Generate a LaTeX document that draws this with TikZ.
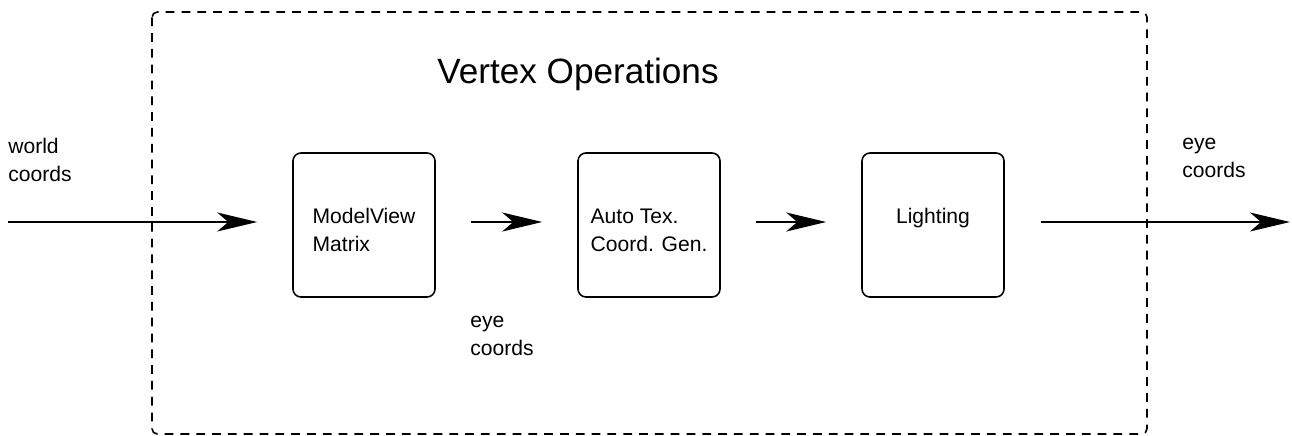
\documentclass[tikz,border=0pt]{standalone}
\usepackage{fontspec}
\setmainfont{Liberation Sans}
\usepackage{tikz}
\usetikzlibrary{positioning,calc,arrows.meta}

\begin{document}
\begin{tikzpicture}[x=0.02cm, y=-0.02cm,
    stage/.style={draw, line width=0.9pt, rounded corners=4.5pt, minimum width=2.84cm,
        minimum height=2.88cm, align=left, font=\fontsize{12}{16}\selectfont},
    lbl/.style={align=left, inner sep=0pt, font=\fontsize{12}{16}\selectfont},
    flow/.style={line width=0.8pt, -{Stealth[length=8mm, width=3.8mm, inset=2.2mm]}}]
    \useasboundingbox (0,0) rectangle (1292,436);

    % Dashed frame
    \draw[line width=0.9pt, dash pattern=on 5pt off 4pt, rounded corners=3pt]
        (152,12) rectangle (1147,434);
    \node[font=\fontsize{20}{24}\selectfont] (title) at (578,74) {Vertex Operations};

    % Stages
    \node[stage, text height=30pt] (mv) at (364,225) {ModelView\\Matrix};
    \node[stage, text height=30pt] (tex) at (649,225) {Auto Tex.\\Coord. Gen.};
    \node[stage, text depth=10pt] (light) at (933,225) {Lighting};

    % Labels
    \node[lbl, anchor=north west] (wc) at (8,138) {world\\coords};
    \node[lbl, anchor=north west] (ec1) at (470,316) {eye\\coords};
    \node[lbl, anchor=north west] (ec2) at (1182,138) {eye\\coords};

    % Arrows
    \coordinate (in) at (8,222);
    \coordinate (out) at (1290,222);
    \draw[flow, shorten >=0.7cm] (in) -- (in -| mv.west);
    \draw[flow, shorten <=0.7cm, shorten >=0.7cm] (mv.east |- in) -- (tex.west |- in);
    \draw[flow, shorten <=0.7cm, shorten >=0.7cm] (tex.east |- in) -- (light.west |- in);
    \draw[flow, shorten <=0.72cm] (light.east |- in) -- (out);

\end{tikzpicture}
\end{document}
